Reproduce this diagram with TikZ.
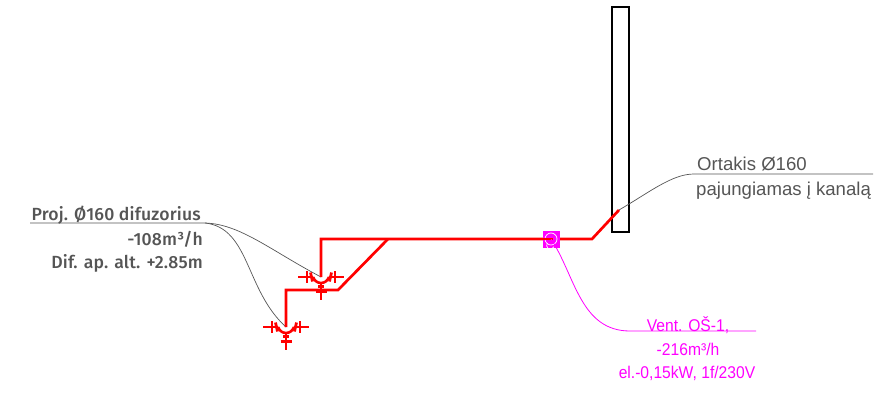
\documentclass[tikz,border=0pt]{standalone}
\usepackage{fontspec}
\setmainfont{Liberation Sans}
\newfontfamily\dinfont[LetterSpace=1.0]{Fira Sans Medium}
\newfontfamily\ventfont[FakeStretch=0.92]{Liberation Sans}
\usepackage{xcolor}
\definecolor{ductred}{RGB}{255,0,0}
\definecolor{ventmagenta}{RGB}{255,0,255}
\definecolor{leadergray}{RGB}{85,85,85}
\definecolor{labelgray}{RGB}{85,85,85}
\tikzset{
  duct/.style={ductred, line width=2.7pt},
  leader/.style={leadergray, line width=0.7pt},
  ventleader/.style={ventmagenta, line width=0.8pt},
  difflabel/.style={labelgray, font=\dinfont\fontsize{17.6}{20}\selectfont, inner sep=0pt, anchor=base east},
  ductlabel/.style={labelgray, font=\fontsize{18.6}{22}\selectfont, inner sep=0pt, anchor=base west},
  ventlabel/.style={ventmagenta, font=\ventfont\fontsize{17}{20}\selectfont, inner sep=0pt, anchor=base},
  pics/diffuser/.style={code={
    \draw[ductred, line width=2.2pt] (-23,0) -- (-8,0) (8,0) -- (23,0);
    \draw[ductred, line width=2.8pt] (-14,-6) -- (-14,6) (14,-6) -- (14,6);
    \draw[ductred, line width=2.8pt] (-10.5,-4.5) -- (-8.5,4.5) (10.5,-4.5) -- (8.5,4.5);
    \draw[ductred, line width=2.6pt] (-8,0) .. controls (-5,8) and (5,8) .. (8,0);
    \draw[ductred, line width=2.2pt] (0,6) -- (0,23);
    \draw[ductred, line width=3pt] (-5.5,14.5) -- (5.5,14.5) (-3,9) -- (3,9);
  }}
}

\begin{document}
\begin{tikzpicture}[x=1pt,y=-1pt]
    \useasboundingbox (0,0) rectangle (891,393);

    % Wall
    \draw[black, line width=2.2pt] (612,7) rectangle (629,232);

    % Leaders
    \coordinate (ductend) at (619,210);
    \coordinate (ductshelf) at (873,174);
    \coordinate (ductknee) at (694,174);
    \draw[leader] (ductend) .. controls (650,192) and (672,174) .. (ductknee) -- (ductshelf);

    % Diffusers
    \coordinate (diffone) at (321,277);
    \coordinate (difftwo) at (286,327);
    \coordinate (diffshelf) at (30,223);
    \coordinate (diffknee) at (205,223);
    \draw[leader] (diffshelf) -- (diffknee) .. controls (240,224) and (270,250) .. (diffone);
    \draw[leader] (diffknee) .. controls (250,228) and (245,290) .. (difftwo);
    \pic at (diffone) {diffuser};
    \pic at (difftwo) {diffuser};

    % Ducts
    \coordinate (vent) at (551,239);
    \coordinate (bendtop) at (321,239);
    \coordinate (branch) at (388,239);
    \coordinate (bendlow) at (338,290);
    \coordinate (bendleft) at (286,290);
    \coordinate (bendwall) at (592,239);
    \draw[duct] (diffone) -- (bendtop) -- (bendwall) -- (ductend);
    \draw[duct] (difftwo) -- (bendleft) -- (bendlow) -- (branch);

    % Fan
    \fill[ventmagenta] (542.5,230.5) rectangle (559.5,247.5);
    \draw[white, line width=0.7pt] (vent) circle (6);
    \draw[white, line width=0.7pt] (547.5,243) arc (220:20:3.8);
    \draw[ductred, line width=1.6pt] (542.5,239) -- (553,239);
    \coordinate (ventshelf) at (756,331);
    \coordinate (ventknee) at (630,331);
    \draw[ventleader] (vent) .. controls (575,275) and (580,331) .. (ventknee) -- (ventshelf);

    % Labels
    \node[difflabel] (diffa) at (201,220) {Proj. Ø160 difuzorius};
    \node[difflabel] (diffb) at (203,245) {-108m³/h};
    \node[difflabel] (diffc) at (203,268) {Dif. ap. alt. +2.85m};
    \node[ductlabel] (ducta) at (697,170) {Ortakis Ø160};
    \node[ductlabel] (ductb) at (696,195) {pajungiamas į kanalą};
    \node[ventlabel] (venta) at (688,331) {Vent. OŠ-1,};
    \node[ventlabel] (ventb) at (688,355) {-216m³/h};
    \node[ventlabel] (ventc) at (687,378) {el.-0,15kW, 1f/230V};
\end{tikzpicture}
\end{document}
